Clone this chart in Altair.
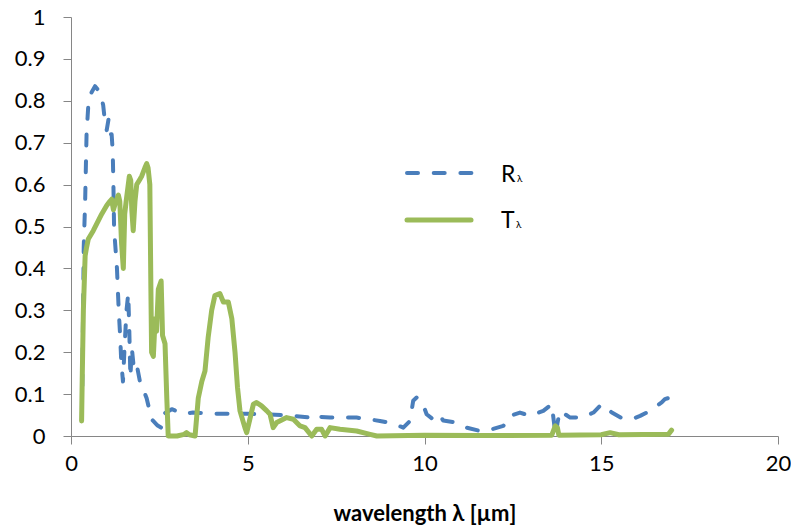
import altair as alt
import pandas as pd

# Reflectance R_lambda (dashed blue)
R_x = [0.32, 0.36, 0.40, 0.44, 0.49, 0.58, 0.68, 0.82, 0.91, 0.96, 1.01, 1.06, 1.10, 1.15, 1.18, 1.20,
       1.22, 1.24, 1.30, 1.35, 1.39, 1.42, 1.47, 1.52, 1.57, 1.62, 1.65, 1.68, 1.72, 1.78, 1.86, 1.95,
       2.05, 2.14, 2.28, 2.45, 2.55, 2.63, 2.85, 3.18, 3.45, 4.1, 5.0, 6.0, 6.3, 6.76, 6.9, 7.0,
       7.33, 8.08, 8.74, 9.1, 9.4, 9.59, 9.68, 9.78, 9.92, 10.06, 10.3, 10.44, 10.53, 10.91, 11.19, 11.57,
       11.9, 12.23, 12.42, 12.7, 12.98, 13.36, 13.6, 13.68, 13.72, 13.76, 13.83, 14.12, 14.45, 14.78, 15.01, 15.3,
       15.55, 15.86, 16.1, 16.38, 16.71, 16.8, 16.95, 17.05]
R_y = [0.12, 0.45, 0.56, 0.72, 0.79, 0.82, 0.835, 0.82, 0.79, 0.75, 0.73, 0.755, 0.72, 0.72, 0.68, 0.60,
       0.49, 0.47, 0.40, 0.30, 0.24, 0.18, 0.13, 0.22, 0.30, 0.34, 0.25, 0.14, 0.21, 0.16, 0.17, 0.13,
       0.11, 0.09, 0.04, 0.025, 0.02, 0.053, 0.064, 0.053, 0.056, 0.053, 0.053, 0.05, 0.048, 0.044, 0.052, 0.046,
       0.044, 0.044, 0.036, 0.03, 0.02, 0.036, 0.084, 0.092, 0.084, 0.052, 0.036, 0.048, 0.037, 0.032, 0.02, 0.012,
       0.016, 0.024, 0.048, 0.056, 0.048, 0.06, 0.076, 0.02, 0.0, 0.03, 0.06, 0.044, 0.044, 0.056, 0.076, 0.056,
       0.044, 0.04, 0.048, 0.06, 0.08, 0.088, 0.092, 0.09]

# Transmittance T_lambda (solid green)
T_x = [0.30, 0.32, 0.35, 0.40, 0.44, 0.49, 0.63, 0.87, 1.01, 1.10, 1.15, 1.20, 1.27, 1.34, 1.38, 1.43,
       1.48, 1.52, 1.56, 1.65, 1.69, 1.72, 1.76, 1.81, 1.86, 1.93, 2.00, 2.09, 2.14, 2.18, 2.23, 2.26,
       2.28, 2.33, 2.38, 2.42, 2.47, 2.55, 2.59, 2.66, 2.71, 2.75, 3.0, 3.2, 3.27, 3.35, 3.51, 3.60,
       3.70, 3.79, 3.88, 3.98, 4.07, 4.21, 4.31, 4.45, 4.55, 4.64, 4.71, 4.78, 4.92, 4.97, 5.16, 5.25,
       5.39, 5.54, 5.63, 5.72, 5.82, 6.1, 6.29, 6.48, 6.62, 6.81, 6.95, 7.09, 7.19, 7.33, 7.61, 8.08,
       8.46, 8.65, 10.0, 11.5, 13.6, 13.7, 13.76, 13.8, 15.0, 15.25, 15.5, 16.9, 16.99]
T_y = [0.036, 0.15, 0.30, 0.43, 0.45, 0.47, 0.49, 0.53, 0.55, 0.56, 0.565, 0.54, 0.56, 0.575, 0.56, 0.46,
       0.40, 0.53, 0.56, 0.62, 0.61, 0.54, 0.49, 0.56, 0.60, 0.61, 0.62, 0.64, 0.65, 0.64, 0.60, 0.35,
       0.20, 0.19, 0.28, 0.25, 0.35, 0.37, 0.24, 0.22, 0.09, 0.0, 0.0, 0.004, 0.008, 0.003, 0.0, 0.09,
       0.13, 0.155, 0.235, 0.30, 0.335, 0.34, 0.32, 0.32, 0.28, 0.20, 0.116, 0.06, 0.02, 0.008, 0.076, 0.08,
       0.072, 0.06, 0.052, 0.02, 0.032, 0.044, 0.04, 0.024, 0.02, 0.0, 0.016, 0.016, 0.0, 0.02, 0.016, 0.012,
       0.004, 0.0, 0.002, 0.001, 0.002, 0.024, 0.02, 0.002, 0.003, 0.008, 0.003, 0.004, 0.014]

x_ticks = [0, 5, 10, 15, 20]
y_ticks = [0, 0.1, 0.2, 0.3, 0.4, 0.5, 0.6, 0.7, 0.8, 0.9, 1.0]
legend_labels = ["R", "T"]
legend_sub = "λ"
x_title = "wavelength λ [µm]"

BLUE = "#4A7EBB"
GREEN = "#9BBB59"
AXIS = "#868686"
FONT = "Lato"
DASH = [11, 15.7]

dfR = pd.DataFrame({"x": R_x, "y": R_y})
dfT = pd.DataFrame({"x": T_x, "y": T_y})

x_enc = alt.X("x:Q", scale=alt.Scale(domain=[0, 20], nice=False, zero=False),
              axis=alt.Axis(values=x_ticks, grid=False, title=x_title, format="d",
                            titleFontWeight="bold", titleFontSize=22, titleFont=FONT,
                            titleColor="#000000", titlePadding=29,
                            labelFont=FONT, labelFontSize=22, labelColor="#000000",
                            labelFlush=False, labelOverlap=False,
                            labelPadding=9, tickSize=8, tickColor=AXIS, domainColor=AXIS))
y_enc = alt.Y("y:Q", scale=alt.Scale(domain=[0, 1], nice=False),
              axis=alt.Axis(values=y_ticks, grid=False, title=None, format="~g",
                            labelFont=FONT, labelFontSize=22, labelColor="#000000",
                            labelFlush=False, labelOverlap=False,
                            labelPadding=18, tickSize=8, tickColor=AXIS, domainColor=AXIS))

lineR = alt.Chart(dfR).mark_line(color=BLUE, strokeWidth=4, strokeDash=DASH,
                                  strokeCap="round", strokeJoin="round").encode(x=x_enc, y=y_enc)
lineT = alt.Chart(dfT).mark_line(color=GREEN, strokeWidth=5,
                                  strokeCap="round", strokeJoin="round").encode(x="x:Q", y="y:Q")

# manual legend
legR_line = alt.Chart(pd.DataFrame({"n": [legend_labels[0]]})).mark_rule(
    color=BLUE, strokeWidth=4, strokeDash=DASH, strokeCap="round").encode(
    x=alt.value(336), x2=alt.value(402), y=alt.value(156))
legT_line = alt.Chart(pd.DataFrame({"n": [legend_labels[1]]})).mark_rule(
    color=GREEN, strokeWidth=5, strokeCap="round").encode(
    x=alt.value(336), x2=alt.value(400), y=alt.value(203))
legR_txt = alt.Chart(pd.DataFrame({"n": [legend_labels[0]]})).mark_text(
    font=FONT, fontSize=23, align="left", baseline="alphabetic", color="#000000").encode(
    text="n:N", x=alt.value(430), y=alt.value(165))
legT_txt = alt.Chart(pd.DataFrame({"n": [legend_labels[1]]})).mark_text(
    font=FONT, fontSize=23, align="left", baseline="alphabetic", color="#000000").encode(
    text="n:N", x=alt.value(430), y=alt.value(211))
legR_sub = alt.Chart(pd.DataFrame({"n": [legend_sub]})).mark_text(
    font=FONT, fontSize=10, align="left", baseline="alphabetic", color="#000000").encode(
    text="n:N", x=alt.value(446), y=alt.value(165))
legT_sub = alt.Chart(pd.DataFrame({"n": [legend_sub]})).mark_text(
    font=FONT, fontSize=10, align="left", baseline="alphabetic", color="#000000").encode(
    text="n:N", x=alt.value(445), y=alt.value(211))

chart = alt.layer(lineR, lineT, legR_line, legT_line, legR_txt, legT_txt, legR_sub, legT_sub).properties(
    width=707, height=419,
    autosize=alt.AutoSizeParams(type="none"),
    padding={"left": 71, "top": 17, "right": 13, "bottom": 93},
    background="white",
).configure_view(strokeWidth=0)

chart.save("out.html", embed_options={"renderer": "svg", "actions": False})
